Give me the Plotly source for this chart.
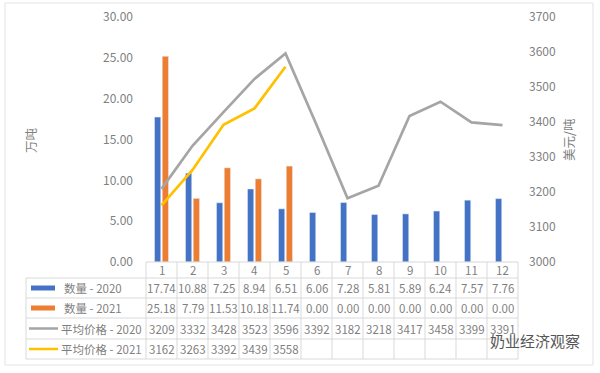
import plotly.graph_objects as go

months = [1, 2, 3, 4, 5, 6, 7, 8, 9, 10, 11, 12]
month_labels = [str(m) for m in months]
qty_2020 = [17.74, 10.88, 7.25, 8.94, 6.51, 6.06, 7.28, 5.81, 5.89, 6.24, 7.57, 7.76]
qty_2021 = [25.18, 7.79, 11.53, 10.18, 11.74, 0.00, 0.00, 0.00, 0.00, 0.00, 0.00, 0.00]
price_2020 = [3209, 3332, 3428, 3523, 3596, 3392, 3182, 3218, 3417, 3458, 3399, 3391]
price_2021 = [3162, 3263, 3392, 3439, 3558, None, None, None, None, None, None, None]
series_names = ["数量 - 2020", "数量 - 2021", "平均价格 - 2020", "平均价格 - 2021"]
colors = ["#4472C4", "#ED7D31", "#A5A5A5", "#FFC000"]
left_ticks = [0, 5, 10, 15, 20, 25, 30]
right_ticks = [3000, 3100, 3200, 3300, 3400, 3500, 3600, 3700]

W_PX, H_PX = 600, 373
L, R, T, B = 146, 518, 17, 262
PW, PH = R - L, B - T
FONT = "Noto Sans CJK SC"
TXT = "#7f7f7f"
GRID = "#d9d9d9"

def fx(px):
    return (px - L) / PW

def fy(py):
    return (B - py) / PH

fig = go.Figure()
fig.add_trace(go.Bar(x=months, y=qty_2020, name=series_names[0], marker_color=colors[0]))
fig.add_trace(go.Bar(x=months, y=qty_2021, name=series_names[1], marker_color=colors[1]))
fig.add_trace(go.Scatter(x=months, y=price_2020, name=series_names[2], mode="lines",
                         line=dict(color=colors[2], width=2.7), yaxis="y2"))
fig.add_trace(go.Scatter(x=months, y=price_2021, name=series_names[3], mode="lines",
                         line=dict(color=colors[3], width=2.7), yaxis="y2", connectgaps=False))

shapes = []
annotations = []
n = len(months)
xmin, xmax = 0.5, n + 0.5

def xcat(v):
    return (v - xmin) / (xmax - xmin)

def ann(x, y, text, size=11, xanchor="center", color=TXT, **kw):
    annotations.append(dict(x=x, y=y, xref="paper", yref="paper", text=text, showarrow=False,
                            xanchor=xanchor, yanchor="middle",
                            font=dict(family=FONT, size=size, color=color), **kw))

line = dict(color=GRID, width=1)
hdr_top, hdr_bot = B, 278
row_bounds = [278, 298, 318, 339, 359]
leg_left = 26
shapes.append(dict(type="line", xref="paper", yref="paper", x0=0, x1=1, y0=fy(hdr_top), y1=fy(hdr_top), line=line))
for rb in row_bounds:
    shapes.append(dict(type="line", xref="paper", yref="paper", x0=fx(leg_left), x1=1, y0=fy(rb), y1=fy(rb), line=line))
for i in range(n + 1):
    xv = xcat(i + 0.5)
    shapes.append(dict(type="line", xref="paper", yref="paper", x0=xv, x1=xv, y0=fy(hdr_top), y1=fy(row_bounds[-1]), line=line))
shapes.append(dict(type="line", xref="paper", yref="paper", x0=fx(leg_left), x1=fx(leg_left), y0=fy(row_bounds[0]), y1=fy(row_bounds[-1]), line=line))

for i, lab in enumerate(month_labels):
    ann(xcat(months[i]), fy((hdr_top + hdr_bot) / 2), lab, size=11.5)

rows = [
    [f"{v:.2f}" for v in qty_2020],
    [f"{v:.2f}" for v in qty_2021],
    [f"{v:d}" for v in price_2020],
    ["" if v is None else f"{v:d}" for v in price_2021],
]
for r, vals in enumerate(rows):
    yc = fy((row_bounds[r] + row_bounds[r + 1]) / 2)
    for i, t in enumerate(vals):
        if t:
            ann(xcat(months[i]), yc, t, size=11.5)
    if r < 2:
        shapes.append(dict(type="rect", xref="paper", yref="paper", x0=fx(31), x1=fx(55),
                           y0=yc - 2.5 / PH, y1=yc + 2.5 / PH, fillcolor=colors[r], line=dict(width=0)))
        tx = 62
    else:
        shapes.append(dict(type="line", xref="paper", yref="paper", x0=fx(29), x1=fx(58),
                           y0=yc, y1=yc, line=dict(color=colors[r], width=2.5)))
        tx = 59
    ann(fx(tx), yc, series_names[r], size=11.5, xanchor="left")

ann(fx(30), fy(140), "万吨", size=12.5, textangle=-90)
ann(fx(568), fy(140), "美元/吨", size=12.5, textangle=-90)
ann(fx(488), fy(341), "奶业经济观察", size=15, xanchor="left", color="#555555")
shapes.append(dict(type="rect", xref="paper", yref="paper", x0=fx(5), x1=fx(593), y0=fy(3), y1=fy(365),
                   line=dict(color="#e3e3e3", width=1), layer="below"))

fig.update_layout(
    width=W_PX, height=H_PX,
    margin=dict(l=L, r=W_PX - R, t=T, b=H_PX - B, pad=0, autoexpand=False),
    paper_bgcolor="white", plot_bgcolor="white",
    showlegend=False, barmode="group", bargap=0.5, bargroupgap=0.2,
    xaxis=dict(range=[xmin, xmax], showticklabels=False, showgrid=False, zeroline=False, fixedrange=True),
    yaxis=dict(range=[0, 30], tickvals=left_ticks, tickformat=".2f", showgrid=False, zeroline=False,
               ticks="", ticklabelstandoff=12, automargin=False, tickfont=dict(family=FONT, size=12, color=TXT)),
    yaxis2=dict(range=[3000, 3700], tickvals=right_ticks, overlaying="y", side="right", showgrid=False,
                zeroline=False, ticks="", ticklabelstandoff=10, automargin=False,
                tickfont=dict(family=FONT, size=12, color=TXT)),
    shapes=shapes, annotations=annotations,
)
fig.write_html("out.html", config={"displayModeBar": False},
               post_script="document.body.style.margin='0';")
